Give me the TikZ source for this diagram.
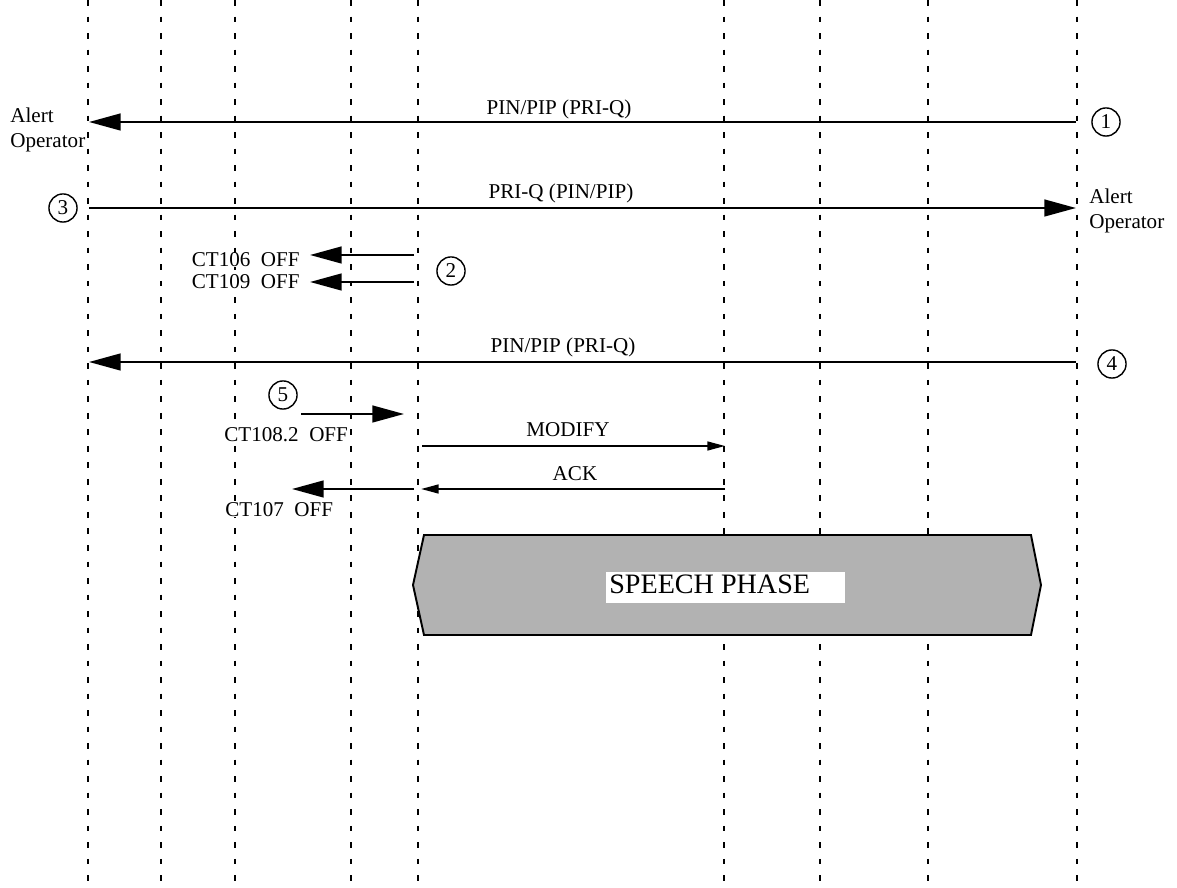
\documentclass[tikz,border=0pt]{standalone}
\usepackage{fontspec}
\setmainfont{Liberation Serif}
\usepackage{tikz}
\usetikzlibrary{arrows.meta}

\tikzset{
  lifeline/.style={line width=1.1pt, dash pattern=on 3.2pt off 6.2pt},
  msg/.style={line width=1.3pt, -{Triangle[length=18pt,width=9.5pt]}},
  smallmsg/.style={line width=1.1pt, -{Triangle[length=10pt,width=5pt]}},
  stepnum/.style={draw, circle, line width=0.8pt, minimum size=16pt, inner sep=0pt,
    fill=white, font=\fontsize{12}{14}\selectfont},
  lbl/.style={font=\fontsize{12}{14.2}\selectfont, inner sep=0pt, fill=white},
}

\begin{document}
\begin{tikzpicture}[x=0.02cm, y=-0.02cm]
  \useasboundingbox (0,0) rectangle (1177,888);

  % lifelines
  \foreach \lx/\ln in {88/a,161/b,235/c,351/d,418/e,724/f,820/g,928/h,1077/i} {
    \coordinate (top\ln) at (\lx,0);
    \coordinate (bot\ln) at (\lx,888);
    \draw[lifeline] (top\ln) -- (bot\ln);
  }

  % message end points
  \coordinate (m1s) at (1076,122);  \coordinate (m1e) at (89,122);
  \coordinate (m3s) at (89,208);    \coordinate (m3e) at (1076,208);
  \coordinate (m2as) at (414,255);  \coordinate (m2ae) at (310,255);
  \coordinate (m2bs) at (414,282);  \coordinate (m2be) at (310,282);
  \coordinate (m4s) at (1076,362);  \coordinate (m4e) at (89,362);
  \coordinate (m5s) at (301,414);   \coordinate (m5e) at (404,414);
  \coordinate (mods) at (422,446);  \coordinate (mode) at (725,446);
  \coordinate (acks) at (725,489);  \coordinate (acke) at (421,489);
  \coordinate (m7s) at (414,489);   \coordinate (m7e) at (292,489);

  \draw[msg] (m1s) -- (m1e);
  \draw[msg] (m3s) -- (m3e);
  \draw[msg] (m2as) -- (m2ae);
  \draw[msg] (m2bs) -- (m2be);
  \draw[msg] (m4s) -- (m4e);
  \draw[msg] (m5s) -- (m5e);
  \draw[smallmsg] (mods) -- (mode);
  \draw[smallmsg] (acks) -- (acke);
  \draw[msg] (m7s) -- (m7e);

  % labels
  \node[lbl, anchor=base] (pin1) at (559,115) {PIN/PIP (PRI-Q)};
  \node[lbl, anchor=base] (pri3) at (561,199) {PRI-Q (PIN/PIP)};
  \node[lbl, anchor=base] (pin4) at (563,353) {PIN/PIP (PRI-Q)};
  \node[lbl, anchor=base] (modify) at (568,437) {MODIFY};
  \node[lbl, anchor=base] (ack) at (575,480) {ACK};
  \node[lbl, anchor=base east] (ct106) at (300,267) {CT106~~OFF};
  \node[lbl, anchor=base east] (ct109) at (300,289) {CT109~~OFF};
  \node[lbl, anchor=base west] (ct108) at (224,442) {CT108.2~~OFF};
  \node[lbl, anchor=base west] (ct107) at (225,517) {CT107~~OFF};
  \node[lbl, anchor=west, align=left] (alertL) at (10,129.6) {Alert\\Operator};
  \node[lbl, anchor=west, align=left] (alertR) at (1089,210.6) {Alert\\Operator};

  % step numbers
  \node[stepnum] (n1) at (1106,122) {1};
  \node[stepnum] (n2) at (451,271) {2};
  \node[stepnum] (n3) at (63,208) {3};
  \node[stepnum] (n4) at (1112,364) {4};
  \node[stepnum] (n5) at (283,395) {5};

  % speech phase
  \draw[line width=1.1pt, fill=black!30] (424,535) -- (1031,535) -- (1041,585)
    -- (1031,635) -- (424,635) -- (413,585) -- cycle;
  \fill[white] (606,572) rectangle (845,603);
  \node[inner sep=0pt, anchor=base west, font=\fontsize{16}{19}\selectfont]
    (speech) at (609,593) {SPEECH PHASE};
\end{tikzpicture}
\end{document}
